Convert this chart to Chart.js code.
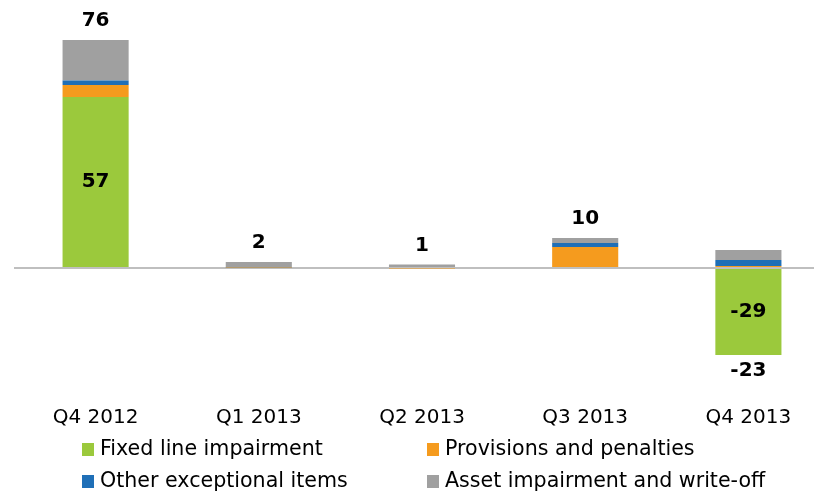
<!DOCTYPE html>
<html>
<head>
<meta charset="utf-8">
<script src="https://cdn.jsdelivr.net/npm/chart.js@4.4.0/dist/chart.umd.min.js"></script>
<style>
  html, body { margin: 0; padding: 0; background: #fff; overflow: hidden; }
  #wrap { width: 830px; height: 493px; }
</style>
</head>
<body>
<div id="wrap"><canvas id="bar-chart"></canvas></div>
<script>
// quarters on the x axis
const quarters = ['Q4 2012', 'Q1 2013', 'Q2 2013', 'Q3 2013', 'Q4 2013'];

// stacked components
const fixedLine = [57, 0, 0, 0, -29];
const provisions = [4, 0.2, -0.2, 7, 0.7];
const otherItems = [1.5, 0.1, 0, 1.3, 2];
const assetWriteOff = [13.5, 1.7, 1.2, 1.7, 3.3];

const seriesNames = ['Fixed line impairment', 'Provisions and penalties', 'Other exceptional items', 'Asset impairment and write-off'];
const seriesColors = ['#9BC93C', '#F59B1E', '#1F6FB7', '#A0A0A0'];

const textFont = "'DejaVu Sans', Verdana, sans-serif";

// totals over each bar, and the values inside the big green bars
const barLabels = {
    id: 'barLabels',
    afterDatasetsDraw(chart) {
        const ctx = chart.ctx;
        const y = chart.scales.y;
        ctx.save();
        ctx.fillStyle = '#000';
        ctx.font = 'bold 20px ' + textFont;
        ctx.textAlign = 'center';
        ctx.textBaseline = 'middle';

        const greenMeta = chart.getDatasetMeta(0);
        greenMeta.data.forEach(function (el, i) {
            const v = chart.data.datasets[0].data[i];
            if (Math.abs(v) >= 10) {
                ctx.fillText(String(v), el.x, (el.y + el.base) / 2);
            }
        });

        quarters.forEach(function (q, i) {
            let pos = 0, neg = 0;
            chart.data.datasets.forEach(function (ds) {
                const v = ds.data[i];
                if (v >= 0) pos += v; else neg += v;
            });
            const total = Math.round(pos + neg);
            const x = greenMeta.data[i].x;
            if (total >= 0) {
                ctx.fillText(String(total), x, y.getPixelForValue(pos) - 19);
            } else {
                ctx.fillText(String(total), x, y.getPixelForValue(neg) + 16);
            }
        });
        ctx.restore();
    }
};

// two-column legend under the axis
const gridLegend = {
    id: 'gridLegend',
    afterDraw(chart) {
        const ctx = chart.ctx;
        const colX = [82, 427];
        const rowY = [450, 482];
        ctx.save();
        ctx.font = '20.6px ' + textFont;
        ctx.textBaseline = 'middle';
        ctx.textAlign = 'left';
        chart.data.datasets.forEach(function (ds, i) {
            const x = colX[i % 2];
            const yy = rowY[Math.floor(i / 2)];
            ctx.fillStyle = ds.backgroundColor;
            ctx.fillRect(x, yy - 7, 12, 13);
            ctx.fillStyle = '#000';
            ctx.fillText(ds.label, x + 18, yy);
        });
        ctx.restore();
    }
};

const ctx = document.getElementById('bar-chart').getContext('2d');

new Chart(ctx, {
    type: 'bar',
    data: {
        labels: quarters,
        datasets: [
            { label: seriesNames[0], data: fixedLine, backgroundColor: seriesColors[0] },
            { label: seriesNames[1], data: provisions, backgroundColor: seriesColors[1] },
            { label: seriesNames[2], data: otherItems, backgroundColor: seriesColors[2] },
            { label: seriesNames[3], data: assetWriteOff, backgroundColor: seriesColors[3] }
        ]
    },
    options: {
        responsive: true,
        maintainAspectRatio: false,
        animation: false,
        devicePixelRatio: 1,
        layout: {
            padding: { left: 14, right: 0, top: 28, bottom: 45 }
        },
        datasets: {
            bar: {
                barPercentage: 1,
                categoryPercentage: 0.405,
                borderWidth: 0
            }
        },
        plugins: {
            legend: { display: false },
            tooltip: { enabled: false }
        },
        scales: {
            x: {
                stacked: true,
                grid: { display: false, drawTicks: false },
                border: { display: false },
                ticks: {
                    color: '#000',
                    padding: 18,
                    maxRotation: 0,
                    font: { family: textFont, size: 20 }
                }
            },
            y: {
                stacked: true,
                min: -40,
                max: 80,
                ticks: { display: false },
                border: { display: false },
                grid: {
                    drawTicks: false,
                    lineWidth: 2,
                    color: function (c) {
                        return c.tick && c.tick.value === 0 ? '#BFBFBF' : 'rgba(0,0,0,0)';
                    }
                }
            }
        }
    },
    plugins: [barLabels, gridLegend]
});
</script>
</body>
</html>
